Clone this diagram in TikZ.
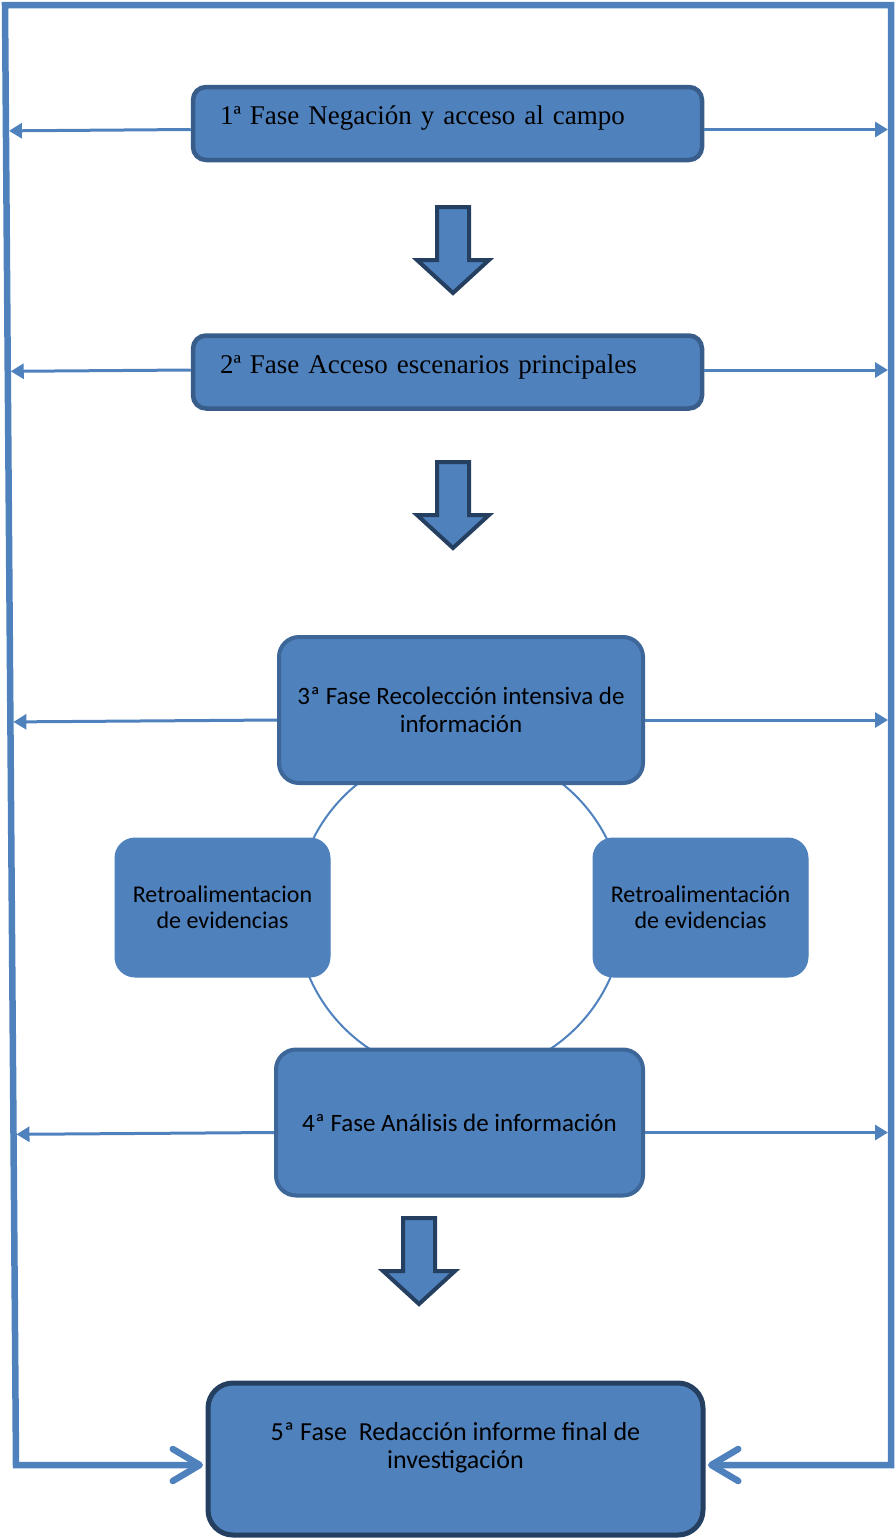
\documentclass[tikz,border=0pt]{standalone}
\usepackage{fontspec}
\setmainfont{Liberation Serif}
\newfontfamily\calibri{Carlito}
\usetikzlibrary{arrows.meta,calc}
\definecolor{boxfill}{HTML}{4F81BD}
\definecolor{boxline}{HTML}{385D8A}
\definecolor{cycline}{HTML}{3D6699}
\definecolor{darkline}{HTML}{243F60}
\definecolor{linkblue}{HTML}{4F81BD}
\tikzset{
  phase/.style={draw=boxline,line width=4.5pt,fill=boxfill,rounded corners=13pt,
    minimum width=509pt,minimum height=73pt,text width=455pt,align=left,
    inner sep=0pt,text depth=16pt,font=\fontsize{27}{30}\selectfont},
  cycbox/.style={draw=cycline,line width=4pt,fill=boxfill,rounded corners=20pt,
    minimum width=364pt,minimum height=146pt,align=center,inner sep=0pt,
    font=\calibri\fontsize{25}{28}\selectfont},
  retro/.style={draw=boxfill,line width=1pt,fill=boxfill,rounded corners=20pt,
    minimum width=215pt,minimum height=139pt,align=center,inner sep=0pt,
    font=\calibri\fontsize{24}{26}\selectfont},
  final/.style={draw=darkline,line width=5pt,fill=boxfill,rounded corners=25pt,
    minimum width=495pt,minimum height=152pt,align=center,inner sep=0pt,
    text depth=28pt,font=\calibri\fontsize{26}{28}\selectfont},
  blockarrow/.style={fill=boxfill,draw=darkline,line width=4pt},
  link/.style={linkblue,line width=3pt,shorten >=3pt,-{Triangle[length=13pt,width=15pt]}},
  frame/.style={linkblue,line width=6.5pt,shorten >=2.5pt,shorten <=2.5pt,
    {Straight Barb[length=27pt,width=32pt,round]}-{Straight Barb[length=27pt,width=32pt,round]}},
  ring/.style={linkblue,line width=2pt}
}
\begin{document}
\begin{tikzpicture}[x=1pt,y=-1pt]
\useasboundingbox (0,0) rectangle (896,1539);
% frame corners
\coordinate (ftl) at (5,5);
\coordinate (ftr) at (891,5);
\coordinate (fbl) at (16,1465);
\coordinate (fbr) at (891,1465);
% cycle behind the boxes
\coordinate (cyc) at (460,912);
\draw[ring] (cyc) circle (164pt);
% phases
\node[phase] (b1) at (447.5,123.5) {1ª Fase Negación y acceso al campo};
\node[phase] (b2) at (447.5,372) {2ª Fase Acceso escenarios principales};
\node[cycbox] (b3) at (461,710) {3ª Fase Recolección intensiva de\\información};
\node[retro] (rl) at (222.5,907.5) {Retroalimentacion\\de evidencias};
\node[retro] (rr) at (700.5,907.5) {Retroalimentación\\de evidencias};
\node[cycbox,minimum width=367pt] (b4) at (459.5,1122.5) {4ª Fase Análisis de información};
\node[final] (b5) at (455.5,1459) {5ª Fase\ \ Redacción informe final de\\investigación};
% block arrows
\foreach \ax/\ay in {453/207,453/462,419/1218}
  \draw[blockarrow] (\ax-16,\ay) -- (\ax+16,\ay) -- (\ax+16,\ay+53) -- (\ax+36,\ay+53)
    -- (\ax,\ay+86) -- (\ax-36,\ay+53) -- (\ax-16,\ay+53) -- cycle;
% side links
\foreach \b/\d in {b1/-6,b2/2,b3/-10,b4/-10} {
  \draw[link] ([yshift=\d pt]\b.west) -- ($(ftl)!([yshift=\d pt]\b.west)!(fbl)$);
  \draw[link] ([yshift=\d pt]\b.east) -- ($(ftr)!([yshift=\d pt]\b.east)!(fbr)$);
}
% outer frame
\draw[frame] (b5.east |- fbr) -- (fbr) -- (ftr) -- (ftl) -- (fbl) -- (b5.west |- fbl);
\end{tikzpicture}
\end{document}
